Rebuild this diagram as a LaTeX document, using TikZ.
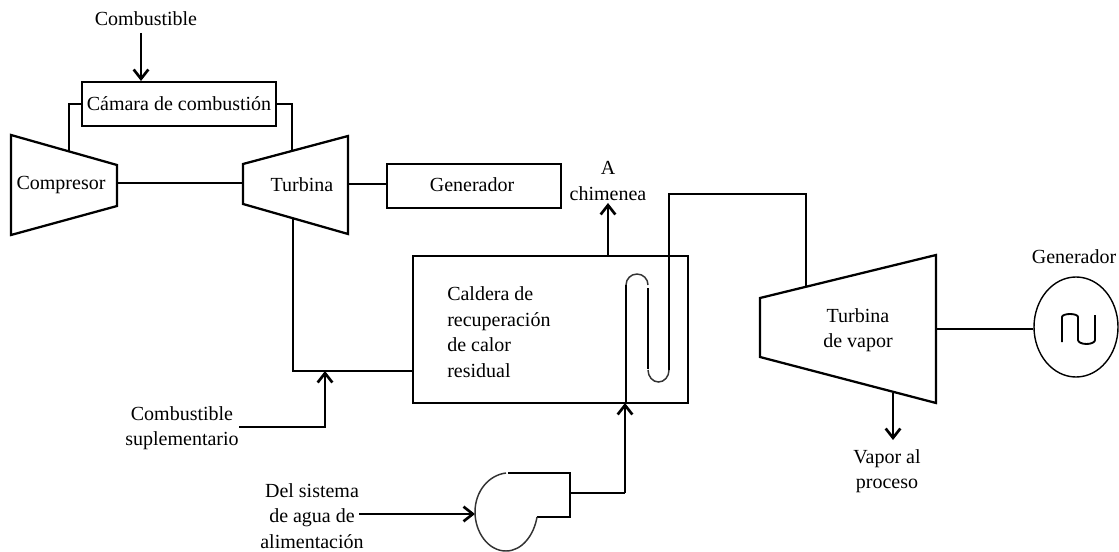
\documentclass[tikz,border=0pt]{standalone}
\usepackage{fontspec}
\setmainfont{Liberation Serif}
\usetikzlibrary{arrows.meta,calc,shapes.geometric}
\tikzset{
  x=0.75pt,y=-0.75pt,
  line/.style={draw=black,line width=2.1pt,line join=miter},
  thinline/.style={draw=black,line width=1.2pt},
  arc line/.style={draw=black!80,line width=1.1pt},
  flow/.style={line,-{Straight Barb[length=7pt,width=11pt,line width=2pt]}},
  thinflow/.style={thinline,-{Straight Barb[length=7pt,width=11pt,line width=2pt]}},
  lab/.style={font=\fontsize{15pt}{19.2pt}\selectfont,inner sep=0pt,align=center}
}
\begin{document}
\begin{tikzpicture}
\useasboundingbox (0,0) rectangle (1119,552);
% boxes
\node[line,lab,minimum width=145.5pt,minimum height=33pt,line width=1.9pt] (cam) at (179,104) {Cámara de combustión};
\node[line,minimum width=130.5pt,minimum height=33pt,inner sep=0pt,line width=1.9pt] (gen) at (474,186) {};
\node[line,minimum width=206.25pt,minimum height=110.25pt,inner sep=0pt,line width=1.9pt] (cal) at (550.5,329.5) {};
% machines
\draw[line,line width=1.7pt] (11,135) -- (117,165) -- (117,206) -- (11,235) -- cycle;
\draw[line,line width=1.7pt] (243,164) -- (348,136) -- (348,234) -- (243,204) -- cycle;
\draw[line,line width=1.7pt] (760,298) -- (936,255) -- (936,403) -- (760,357) -- cycle;
\node[draw=black,line width=1.05pt,ellipse,minimum width=63pt,minimum height=75pt,inner sep=0pt] (alt) at (1076,327) {};
% labels
\node[lab] (tcomb) at (146,19) {Combustible};
\node[lab] (tcomp) at (61,185) {Compresor};
\node[lab] (tturb) at (302,185) {Turbina};
\node[lab] (tgentxt) at (472,185) {Generador};
\node[lab] (tchim) at (608,181) {A\\chimenea};
\node[lab,align=left,anchor=west] (tcal) at (447,332) {Caldera de\\recuperación\\de calor\\residual};
\node[lab] (tsup) at (182,428) {Combustible\\suplementario};
\node[lab] (tagua) at (312,516) {Del sistema\\de agua de\\alimentación};
\node[lab] (ttv) at (858,330) {Turbina\\de vapor};
\node[lab] (tvap) at (887,471) {Vapor al\\proceso};
\node[lab] (tgen) at (1074,257) {Generador};
% anchor coordinates
\coordinate (fuelstart) at (141,33);
\coordinate (fuelend) at (141,81);
\coordinate (compout) at (69,152);
\coordinate (turbin) at (292,151);
\coordinate (compshaft) at (117,183);
\coordinate (turbshaft) at (243,183);
\coordinate (turbright) at (348,184);
\coordinate (turbout) at (293,218);
\coordinate (junc) at (325,371);
\coordinate (supstart) at (239,427);
\coordinate (chimbase) at (608,255);
\coordinate (chimtip) at (608,203);
\coordinate (steamtop) at (806,287);
\coordinate (vapbase) at (893,393);
\coordinate (vaptip) at (893,440);
\coordinate (tvshaft) at (936,329);
\coordinate (feedstart) at (359,514);
\coordinate (pumpin) at (475,514);
\coordinate (pumpout) at (570,493);
\coordinate (feedwall) at (625,403);
% connectors
\draw[flow] (fuelstart) -- (fuelend);
\draw[line] (compout) |- (cam.west);
\draw[line] (cam.east) -| (turbin);
\draw[line] (compshaft) -- (turbshaft);
\draw[line] (turbright) -- (gen.west |- turbright);
\draw[line] (turbout) |- (cal.west |- junc);
\draw[flow] (supstart) -| (junc);
\draw[flow] (chimbase) -- (chimtip);
\draw[line] (tvshaft) -- (alt.west |- tvshaft);
\draw[flow] (vapbase) -- (vaptip);
\draw[flow] (feedstart) -- (pumpin);
\draw[thinline,line width=1.7pt] (pumpout) -- (625,493);
\draw[thinflow] (625,493) -- (feedwall);
% steam coil
\draw[line] (steamtop) |- (669,194) -- (669,370);
\draw[arc line] (669,370) arc[start angle=0,end angle=-180,x radius=10.5,y radius=-12];
\draw[line] (648,369) -- (648,288);
\draw[arc line] (648,285) arc[start angle=0,end angle=180,x radius=11,y radius=-11];
\draw[line,line width=1.7pt] (626,285) -- (626,403);
% pump
\draw[line,line width=1.7pt] (508,473) -- (570,473) -- (570,517) -- (537,517);
\draw[arc line] (537,517) .. controls (534,535) and (522,551) .. (506,551) .. controls (488,551) and (475,532) .. (475,512) .. controls (475,491) and (489,475) .. (506,473);
% alternator glyph
\draw[thinline,line width=1.4pt] (1062,342) -- (1062,317) arc[start angle=180,end angle=0,x radius=8,y radius=-3] -- (1078,340) arc[start angle=180,end angle=360,x radius=8.5,y radius=-4] -- (1095,315);
\end{tikzpicture}
\end{document}
